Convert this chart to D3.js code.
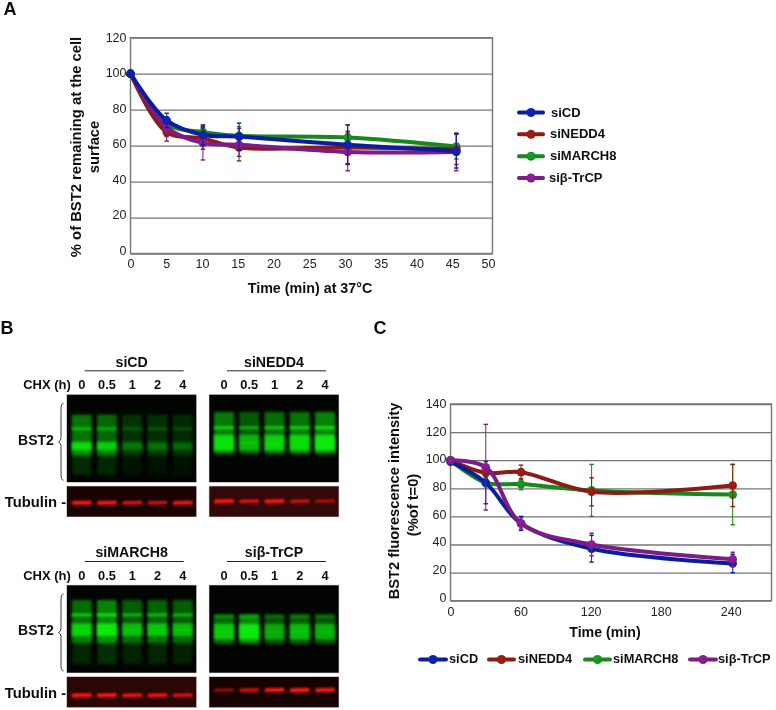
<!DOCTYPE html>
<html><head><meta charset="utf-8">
<script src="https://cdn.jsdelivr.net/npm/d3@7"></script>
<style>
html,body{margin:0;padding:0;background:#fff}
svg{display:block}
text{font-family:"Liberation Sans",Arial,sans-serif}
.lab{font-weight:bold;fill:#111}
.axis text{fill:#222;font-size:12.5px}
.axis path,.axis line{stroke:#767676;stroke-width:1.3px}
</style></head><body>
<div id="c"></div>
<script>
// ---------- Data ----------
const seriesNames = ["siCD","siNEDD4","siMARCH8","siβ-TrCP"];
const seriesColors = ["#0b1f9c","#8a1a12","#14881c","#7b1b84"];

const timesA = [0,5,10,15,30,45];
const aCD      = [100,74,66,65,60.5,57];
const aNEDD4   = [100,67.5,64,59,59,58];
const aMARCH8  = [100,72,67.5,65.5,64.5,59.5];
const aTrCP    = [100,70,61.5,60.5,56.5,56.5];
const aCDerr     = [0,4,5.5,7.5,11,9.5];
const aNEDD4err  = [0,5,6,5,9,8.5];
const aMARCH8err = [0,3,3,5,7,7];
const aTrCPerr   = [0,5,9.5,9,10.5,10.5];

const timesC = [0,30,60,120,240];
const cCD      = [99,84,55,37,26.5];
const cNEDD4   = [100,91,91.5,77.5,82];
const cMARCH8  = [100,84,83,78.5,75.5];
const cTrCP    = [100,95,55,40,29.5];
const cCDerr     = [0,15,5,9.5,6.5];
const cNEDD4err  = [0,3,5,10,15];
const cMARCH8err = [0,3,4,18.5,21.5];
const cTrCPerr   = [0,30.5,4,8,5];

const ticksAx = [0,5,10,15,20,25,30,35,40,45,50];
const ticksAy = [0,20,40,60,80,100,120];
const ticksCx = [0,60,120,180,240];
const ticksCy = [0,20,40,60,80,100,120,140];

const laneLabels = ["0","0.5","1","2","4"];
// relative BST2 signal per lane and relative tubulin signal per lane
const bstCD     = [0.92,0.84,0.48,0.46,0.42];
const bstNEDD4  = [0.95,0.76,0.88,0.92,1.0];
const bstMARCH8 = [0.88,1.0,0.78,0.82,0.78];
const bstTrCP   = [0.84,1.0,0.7,0.78,0.72];
const tubCD     = [0.95,0.9,0.75,0.65,0.8];
const tubNEDD4  = [0.95,0.7,0.85,0.6,0.5];
const tubMARCH8 = [0.85,0.85,0.8,0.8,0.7];
const tubTrCP   = [0.45,0.7,0.95,1.0,0.9];
// band migration (fraction of the blot height): upper band, lower band, smear start, smear end, tail end
const migCD     = [0.39,0.59,0.23,0.70,0.92];
const migNEDD4  = [0.38,0.55,0.20,0.68,0.70];
const migMARCH8 = [0.34,0.51,0.17,0.66,0.90];
const migTrCP   = [0.36,0.53,0.33,0.67,0.68];
// half thickness of the lower band and strength of the upper band per blot
const lowerCD = 0.05, lowerNEDD4 = 0.09, lowerMARCH8 = 0.075, lowerTrCP = 0.09;
const upperCD = 0.55, upperNEDD4 = 0.75, upperMARCH8 = 0.75, upperTrCP = 0.3;
const tubPosCD = 0.54, tubPosNEDD4 = 0.49, tubPosMARCH8 = 0.6, tubPosTrCP = 0.43;

// ---------- Setup ----------
const svg = d3.select("#c").append("svg").attr("width",776).attr("height",710);
const defs = svg.append("defs");
const f1 = defs.append("filter").attr("id","blurA").attr("x","-30%").attr("y","-40%").attr("width","160%").attr("height","180%");
f1.append("feGaussianBlur").attr("stdDeviation",1.8);
const f2 = defs.append("filter").attr("id","blurB").attr("x","-30%").attr("y","-100%").attr("width","160%").attr("height","300%");
f2.append("feGaussianBlur").attr("stdDeviation",0.8);
const f3 = defs.append("filter").attr("id","soft").attr("x","-10%").attr("y","-10%").attr("width","120%").attr("height","120%");
f3.append("feGaussianBlur").attr("stdDeviation",0.35);
seriesColors.forEach((c,i)=>{
  const g = defs.append("radialGradient").attr("id","m"+i).attr("cx","40%").attr("cy","35%").attr("r","70%");
  g.append("stop").attr("offset","0%").attr("stop-color",d3.color(c).brighter(0.5));
  g.append("stop").attr("offset","100%").attr("stop-color",c);
});
const text = (g,x,y,s,size,anchor)=>g.append("text").attr("class","lab").attr("x",x).attr("y",y)
  .attr("dy","0.35em").attr("font-size",size).attr("text-anchor",anchor||"middle").text(s);

// ---------- Line charts ----------
function lineChart(o){
  const g = svg.append("g").attr("filter","url(#soft)");
  const x = d3.scaleLinear().domain(o.xDomain).range([o.left,o.right]);
  const y = d3.scaleLinear().domain(o.yDomain).range([o.bottom,o.top]);
  const ya = g.append("g").attr("class","axis").attr("transform",`translate(${o.left},0)`)
    .call(d3.axisLeft(y).tickValues(o.yTicks).tickSize(o.left-o.right).tickPadding(4));
  ya.select(".domain").remove();
  // the figure's labels drift slightly from their gridlines
  const yShift = d3.scaleLinear().domain(o.yDomain).range([-3.5,-0.5]);
  ya.selectAll("text").attr("x",-4).attr("dy","0.32em").attr("transform",d=>`translate(0,${yShift(d)})`);
  const xa = g.append("g").attr("class","axis").attr("transform",`translate(0,${o.bottom})`)
    .call(d3.axisBottom(x).tickValues(o.xTicks).tickSize(0).tickPadding(6));
  xa.select(".domain").remove();
  const xShift = d3.scaleLinear().domain([0,o.xTicks[o.xTicks.length-1]]).range([0,o.xLabelDrift]);
  xa.selectAll("text").attr("transform",d=>`translate(${xShift(d)},0)`);
  g.append("rect").attr("x",o.left).attr("y",o.top).attr("width",o.right-o.left).attr("height",o.bottom-o.top)
    .attr("fill","none").attr("stroke","#767676").attr("stroke-width",1.4);
  const line = d3.line().x(d=>x(d.t)).y(d=>y(d.v)).curve(d3.curveCatmullRom.alpha(0.5));
  o.order.forEach(i=>{
    const pts = o.times.map((t,k)=>({t,v:o.values[i][k],e:o.errs[i][k]}));
    const col = seriesColors[i];
    const s = g.append("g");
    pts.filter(d=>d.e>0).forEach(d=>{
      s.append("line").attr("x1",x(d.t)).attr("x2",x(d.t)).attr("y1",y(d.v-d.e)).attr("y2",y(d.v+d.e))
        .attr("stroke",col).attr("stroke-width",1);
      [d.v-d.e,d.v+d.e].forEach(v=>s.append("line").attr("x1",x(d.t)-2.2).attr("x2",x(d.t)+2.2)
        .attr("y1",y(v)).attr("y2",y(v)).attr("stroke",col).attr("stroke-width",1.4));
    });
    s.append("path").attr("d",line(pts)).attr("fill","none").attr("stroke",col).attr("stroke-width",4);
    s.selectAll("circle").data(pts).join("circle").attr("cx",d=>x(d.t)).attr("cy",d=>y(d.v)).attr("r",4.3)
      .attr("fill",`url(#m${i})`);
  });
  return g;
}
const valuesA=[aCD,aNEDD4,aMARCH8,aTrCP], errsA=[aCDerr,aNEDD4err,aMARCH8err,aTrCPerr];
const valuesC=[cCD,cNEDD4,cMARCH8,cTrCP], errsC=[cCDerr,cNEDD4err,cMARCH8err,cTrCPerr];

lineChart({left:130.5,right:492.5,top:37.7,bottom:253.5,xDomain:[0,50],yDomain:[0,120],xTicks:ticksAx,yTicks:ticksAy,xLabelDrift:-4.5,
  times:timesA,values:valuesA,errs:errsA,order:[2,1,3,0]});
lineChart({left:450.5,right:771.5,top:404,bottom:600.7,xDomain:[0,273],yDomain:[0,140],xTicks:ticksCx,yTicks:ticksCy,xLabelDrift:-2,
  times:timesC,values:valuesC,errs:errsC,order:[2,1,0,3]});

function legendMark(g,x0,x1,y,i){
  g.append("line").attr("x1",x0).attr("x2",x1).attr("y1",y).attr("y2",y).attr("stroke",seriesColors[i]).attr("stroke-width",4).attr("stroke-linecap","round");
  g.append("circle").attr("cx",(x0+x1)/2).attr("cy",y).attr("r",4.5).attr("fill",`url(#m${i})`);
}
const lt = svg.append("g").attr("filter","url(#soft)");
seriesNames.forEach((n,i)=>{
  const y = d3.scalePoint().domain(seriesNames).range([112.5,178])(n);
  legendMark(lt,519,543,y,i);
  text(lt,[551,550,550,549][i],y-0.5,n,13,"start");
});
const lxs=[[420,446,449],[489,514,518],[585,610,613],[690,716,718]];
seriesNames.forEach((n,i)=>{
  legendMark(lt,lxs[i][0],lxs[i][1],659.5,i);
  text(lt,lxs[i][2],659,n,12.8,"start");
});

text(lt,310,288,"Time (min) at 37°C",14.3);
text(lt,605,632,"Time (min)",14.2);
const yTitle=(x,y,s,size)=>lt.append("text").attr("class","lab").attr("transform",`translate(${x},${y}) rotate(-90)`)
  .attr("dy","0.35em").attr("text-anchor","middle").attr("font-size",size).text(s);
yTitle(75.5,147,"% of BST2 remaining at the cell",14.8);
yTitle(94,147,"surface",14.8);
yTitle(394,501,"BST2 fluorescence intensity",14.7);
yTitle(413,505,"(%of t=0)",14.7);
text(lt,10,9,"A",18);
text(lt,7,328,"B",18);
text(lt,380,328,"C",18);

// ---------- Blots ----------
function blot(o){
  const g = svg.append("g");
  const W=130, H=88, TH=31;
  const lane = d3.scalePoint().domain(laneLabels).range([o.x+15,o.x+116]);
  const m = d3.scaleLinear().domain([0,1]).range([o.y,o.y+H]);
  const clipId="c"+o.id;
  defs.append("clipPath").attr("id",clipId).append("rect").attr("x",o.x).attr("y",o.y).attr("width",W).attr("height",H);
  defs.append("clipPath").attr("id",clipId+"t").append("rect").attr("x",o.x).attr("y",o.y+H+3.7).attr("width",W).attr("height",TH);

  g.append("rect").attr("x",o.x).attr("y",o.y).attr("width",W).attr("height",H).attr("fill","#010401").attr("stroke","#ddd").attr("stroke-width",0.6);
  const gb = g.append("g").attr("clip-path",`url(#${clipId})`);
  const [up,lo,s0,s1,tail]=o.mig;
  const lw=20;
  laneLabels.forEach((l,i)=>{
    const I=o.bst[i], cx=lane(l), P=Math.pow(I,1.4);
    const r=(a,b,wd,op,f)=>gb.append("rect").attr("x",cx-wd/2).attr("y",m(a)).attr("width",wd).attr("height",Math.max(0,m(b)-m(a)))
      .attr("fill","#0cf50c").attr("opacity",op).attr("filter",`url(#${f})`);
    if(tail>s1+0.05) r(s1-0.05,tail,lw-1,0.18*P,"blurA");
    r(s0,s1,lw,0.52*P,"blurA");
    r(up-0.02,up+0.02,lw,o.upper*P,"blurB");
    r(lo-o.lower,lo+o.lower,lw,Math.min(1,0.9*P),"blurA");
    r(lo-0.012,lo+0.012,lw-1,0.3*P,"blurB");
  });

  const ty=o.y+H+3.7;
  const t = d3.scaleLinear().domain([0,1]).range([ty,ty+TH]);
  g.append("rect").attr("x",o.x).attr("y",ty).attr("width",W).attr("height",TH).attr("fill",o.tubBg).attr("stroke","#ddd").attr("stroke-width",0.6);
  const gt = g.append("g").attr("clip-path",`url(#${clipId}t)`);
  laneLabels.forEach((l,i)=>{
    const I=o.tub[i];
    gt.append("rect").attr("x",lane(l)-10).attr("y",t(o.tubPos)-1.1-I).attr("width",20).attr("height",2.2+2*I).attr("rx",1.5)
      .attr("fill","#ff1414").attr("opacity",Math.min(1,I+0.15)).attr("filter","url(#blurB)")
      .attr("transform",`rotate(-1.5 ${lane(l)} ${t(o.tubPos)})`);
  });

  const tg = svg.append("g").attr("filter","url(#soft)");
  text(tg,o.x+65,o.y-32.5,o.title,14.2);
  tg.append("line").attr("x1",o.x+18).attr("x2",o.x+117).attr("y1",o.y-23.5).attr("y2",o.y-23.5).attr("stroke","#222").attr("stroke-width",1);
  laneLabels.forEach(l=>text(tg,lane(l),o.y-9.5,l,12.8));
  if(o.side){
    text(tg,47,o.y-9.5,"CHX (h)",13);
    text(tg,36,o.y+45.5,"BST2",14);
    text(tg,35.5,ty+16,"Tubulin -",14.8);
    const p=d3.path(), bx=61.5, a=o.y+9, b=o.y+86, c=(a+b)/2;
    p.moveTo(bx+2,a); p.quadraticCurveTo(bx-0.5,a,bx-0.5,a+6); p.lineTo(bx-0.5,c-4);
    p.quadraticCurveTo(bx-0.5,c-1,bx-3,c); p.quadraticCurveTo(bx-0.5,c+1,bx-0.5,c+4);
    p.lineTo(bx-0.5,b-6); p.quadraticCurveTo(bx-0.5,b,bx+2,b);
    tg.append("path").attr("d",p.toString()).attr("fill","none").attr("stroke","#222").attr("stroke-width",0.9);
  }
}
blot({id:1,x:66.7,y:394.3,title:seriesNames[0],bst:bstCD,tub:tubCD,mig:migCD,lower:lowerCD,upper:upperCD,tubPos:tubPosCD,tubBg:"#1a0303",side:true});
blot({id:2,x:209,y:394.3,title:seriesNames[1],bst:bstNEDD4,tub:tubNEDD4,mig:migNEDD4,lower:lowerNEDD4,upper:upperNEDD4,tubPos:tubPosNEDD4,tubBg:"#320808",side:false});
blot({id:3,x:66.7,y:585,title:seriesNames[2],bst:bstMARCH8,tub:tubMARCH8,mig:migMARCH8,lower:lowerMARCH8,upper:upperMARCH8,tubPos:tubPosMARCH8,tubBg:"#2c0505",side:true});
blot({id:4,x:209,y:585,title:seriesNames[3],bst:bstTrCP,tub:tubTrCP,mig:migTrCP,lower:lowerTrCP,upper:upperTrCP,tubPos:tubPosTrCP,tubBg:"#170202",side:false});
</script>
</body></html>
